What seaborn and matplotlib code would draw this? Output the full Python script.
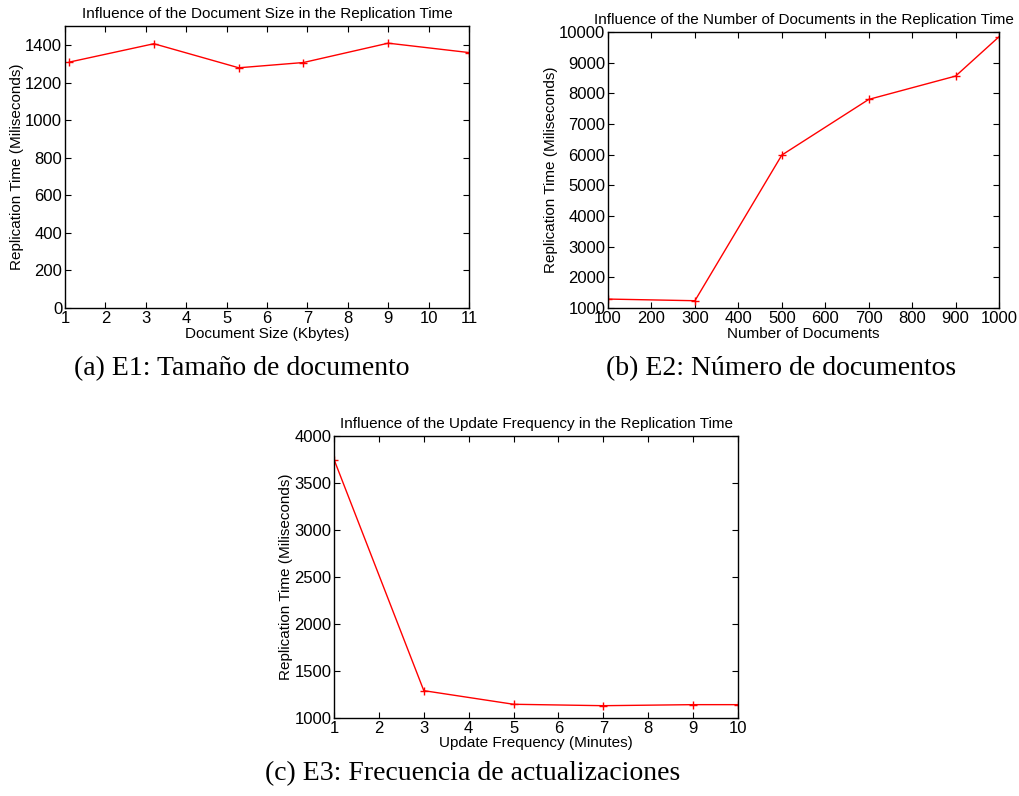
import matplotlib

matplotlib.use("Agg")
import matplotlib.pyplot as plt
import pandas as pd
import seaborn as sns

# E1: document size vs replication time
size_kb = [1.1, 3.2, 5.3, 6.9, 9.0, 11.0]
size_ms = [1309, 1407, 1279, 1307, 1410, 1360]

# E2: number of documents vs replication time
n_docs = [100, 300, 500, 700, 900, 1000]
docs_ms = [1293, 1239, 5989, 7804, 8565, 9848]

# E3: update frequency vs replication time
freq_min = [1, 3, 5, 7, 9, 10]
freq_ms = [3752, 1291, 1146, 1131, 1142, 1142]

sns.set_theme(style="ticks")
plt.rcParams["font.family"] = ["Liberation Sans", "DejaVu Sans"]
plt.rcParams["text.color"] = "black"
plt.rcParams["axes.labelcolor"] = "black"

RED = "#ff0000"
CAPTION_FONT = ["Liberation Serif", "DejaVu Serif"]


def draw_panel(ax, x, y, title, xlabel, xlim, ylim, xticks, yticks):
    df = pd.DataFrame({"x": x, "y": y})
    sns.lineplot(data=df, x="x", y="y", color=RED, linewidth=1.0,
                 marker="+", markersize=6, markeredgewidth=1.0,
                 markeredgecolor=RED, ax=ax)
    ax.set_xlim(*xlim)
    ax.set_ylim(*ylim)
    ax.set_xticks(xticks)
    ax.set_yticks(yticks)
    ax.tick_params(direction="in", length=4, width=0.8, top=True, right=True,
                   labelsize=12, pad=2, colors="black")
    for spine in ax.spines.values():
        spine.set_visible(True)
        spine.set_linewidth(1.0)
        spine.set_color("black")
    ax.set_title(title, fontsize=11, pad=6)
    ax.set_xlabel(xlabel, fontsize=11, labelpad=0.5)
    ax.set_ylabel("Replication Time (Miliseconds)", fontsize=11, labelpad=1)


fig = plt.figure(figsize=(10.19, 7.96), dpi=100)
ax_a = fig.add_axes([0.0638, 0.613, 0.3965, 0.354])
ax_b = fig.add_axes([0.5967, 0.613, 0.3837, 0.3467])
ax_c = fig.add_axes([0.3278, 0.098, 0.3965, 0.354])

draw_panel(ax_a, size_kb, size_ms,
           "Influence of the Document Size in the Replication Time",
           "Document Size (Kbytes)", (1, 11), (0, 1500),
           range(1, 12), range(0, 1401, 200))
draw_panel(ax_b, n_docs, docs_ms,
           "Influence of the Number of Documents in the Replication Time",
           "Number of Documents", (100, 1000), (1000, 10000),
           range(100, 1001, 100), range(1000, 10001, 1000))
draw_panel(ax_c, freq_min, freq_ms,
           "Influence of the Update Frequency in the Replication Time",
           "Update Frequency (Minutes)", (1, 10), (1000, 4000),
           range(1, 11), range(1000, 4001, 500))

fig.text(242 / 1019, 1 - 369 / 796, "(a) E1: Tamaño de documento",
         family=CAPTION_FONT, fontsize=20, ha="center", va="center")
fig.text(781 / 1019, 1 - 369 / 796, "(b) E2: Número de documentos",
         family=CAPTION_FONT, fontsize=20, ha="center", va="center")
fig.text(473 / 1019, 1 - 774 / 796, "(c) E3: Frecuencia de actualizaciones",
         family=CAPTION_FONT, fontsize=20, ha="center", va="center")

fig.savefig("out.png", dpi=100)
